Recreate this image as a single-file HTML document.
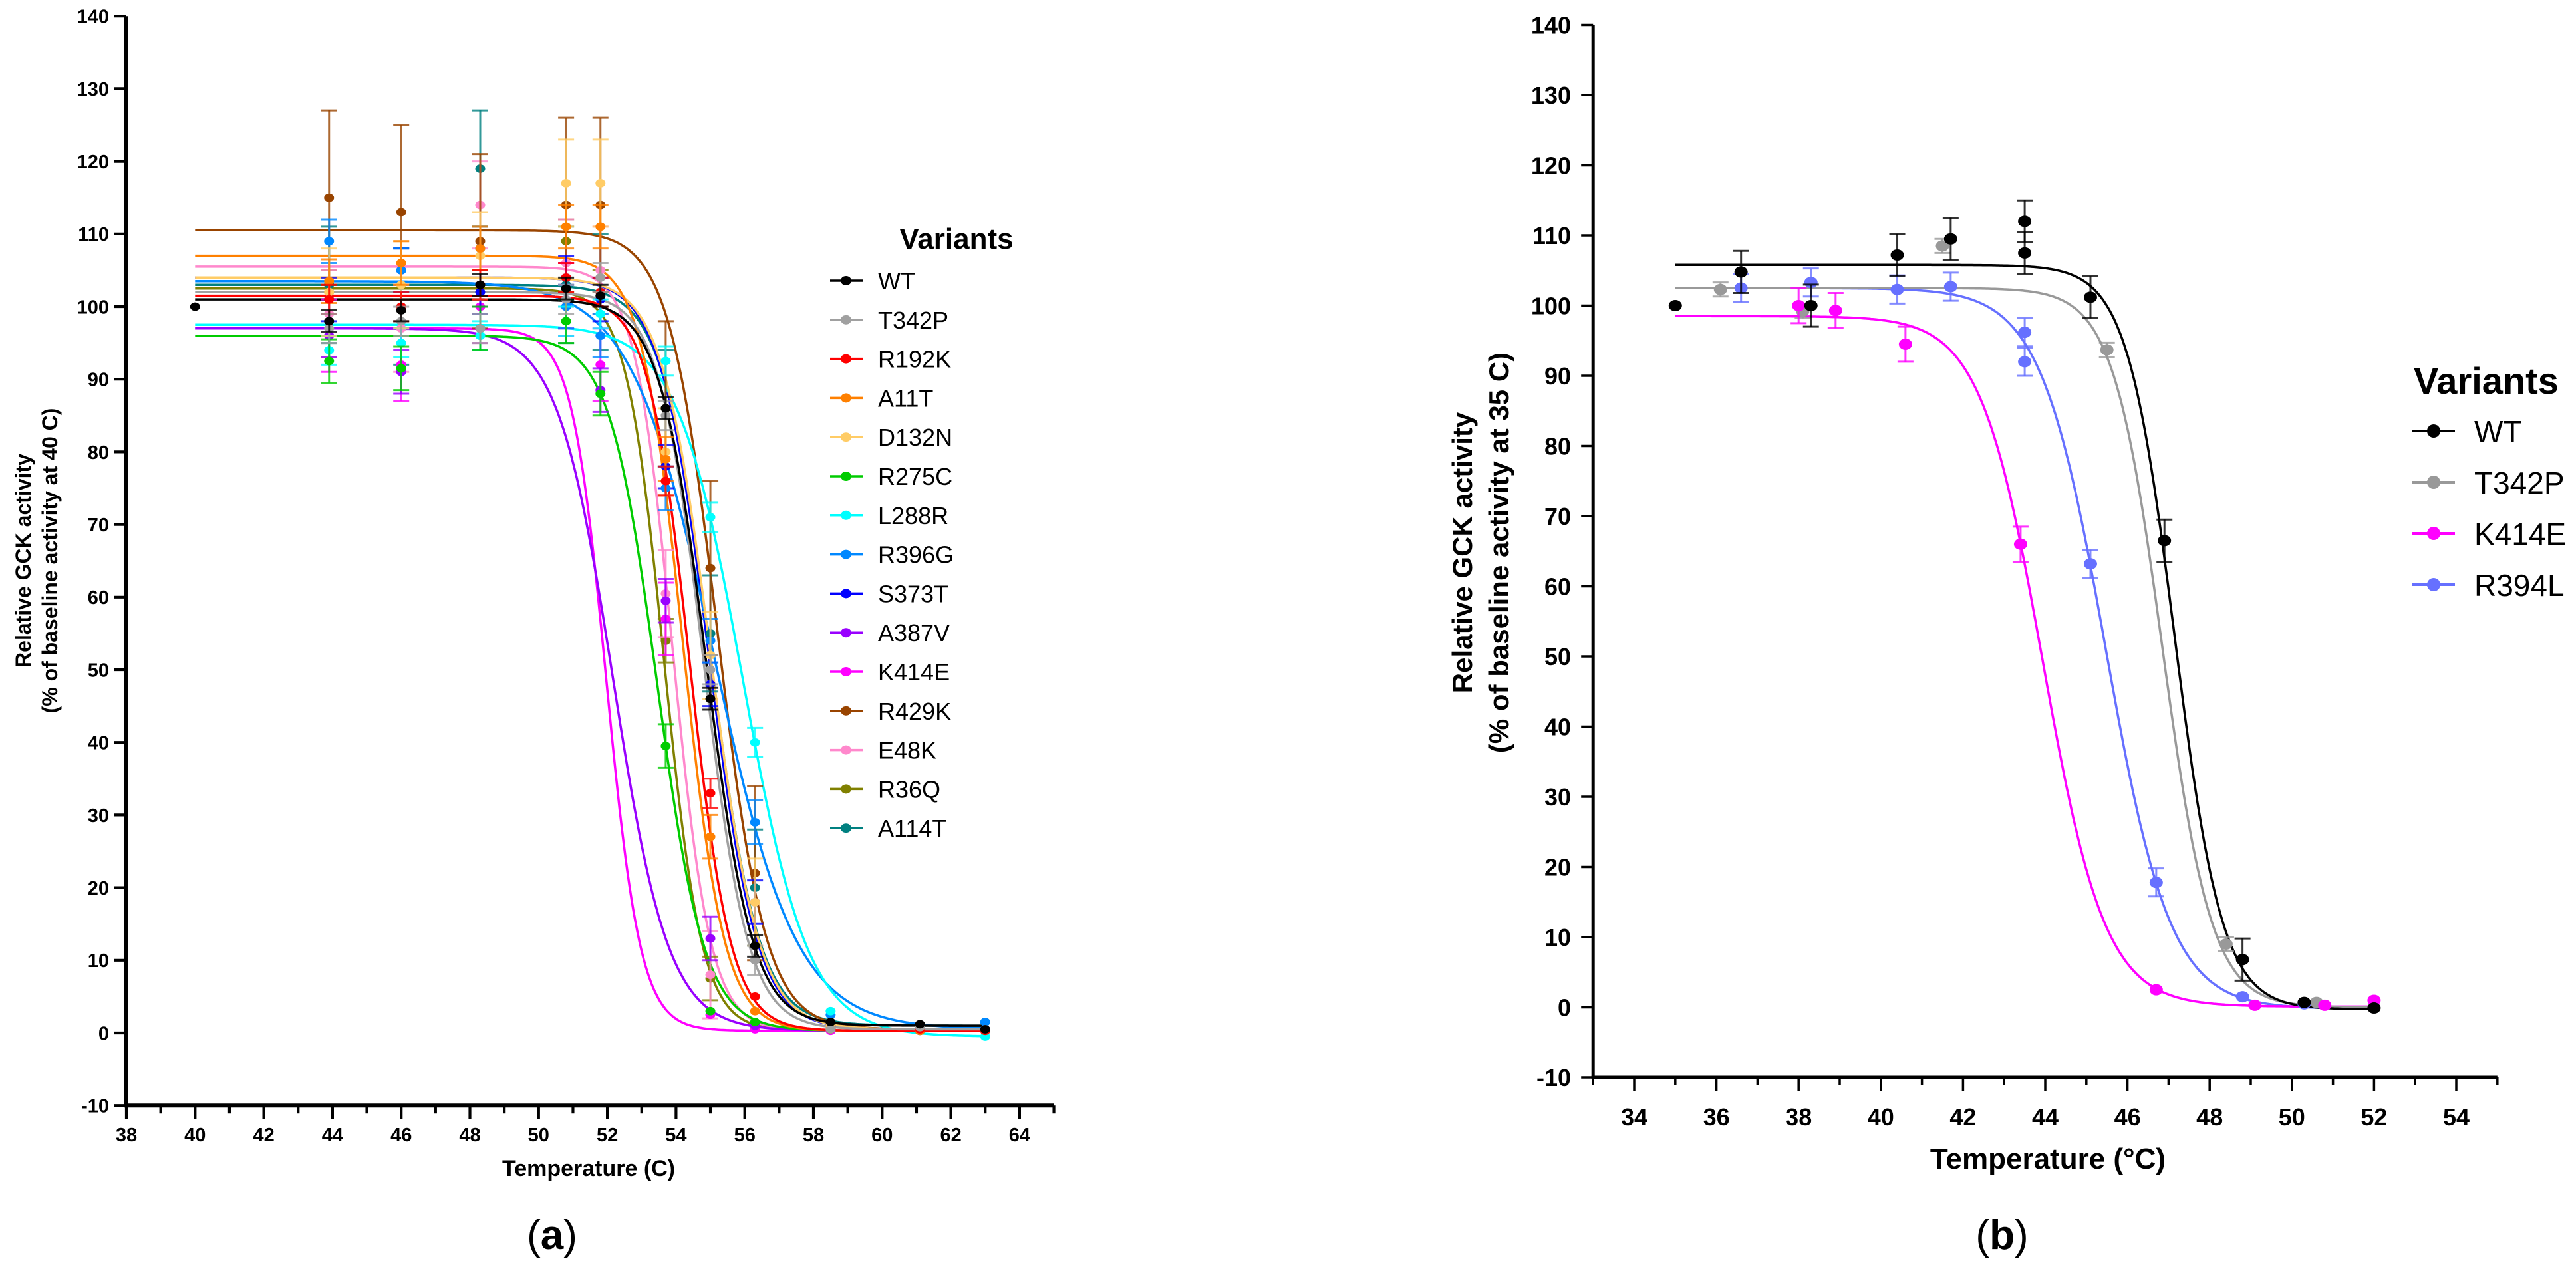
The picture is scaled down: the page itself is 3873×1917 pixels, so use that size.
<!DOCTYPE html>
<html><head><meta charset="utf-8"><style>
html,body{margin:0;padding:0;background:#fff;width:3873px;height:1917px;overflow:hidden}
svg{display:block}
text{font-family:"Liberation Sans",Arial,sans-serif}
</style></head><body>
<svg id="fig" width="3873" height="1917" viewBox="0 0 3873 1917" xmlns="http://www.w3.org/2000/svg">
<g id="pa"></g>
<g id="pb"></g>
<text x="885" y="1768" font-size="34" font-weight="bold" text-anchor="middle">Temperature (C)</text>
<text x="830" y="1878" font-size="62" text-anchor="middle" font-family="Liberation Serif, serif">(<tspan font-weight="bold">a</tspan>)</text>
<text transform="translate(46,843) rotate(-90)" font-size="32" font-weight="bold" text-anchor="middle">Relative GCK activity</text>
<text transform="translate(86,843) rotate(-90)" font-size="32" font-weight="bold" text-anchor="middle">(% of baseline activity at 40 C)</text>
<text x="3079" y="1757" font-size="44" font-weight="bold" text-anchor="middle">Temperature (°C)</text>
<text x="3010" y="1878" font-size="62" text-anchor="middle" font-family="Liberation Serif, serif">(<tspan font-weight="bold">b</tspan>)</text>
<text transform="translate(2213,831) rotate(-90)" font-size="42" font-weight="bold" text-anchor="middle">Relative GCK activity</text>
<text transform="translate(2268,831) rotate(-90)" font-size="42" font-weight="bold" text-anchor="middle">(% of baseline activity at 35 C)</text>
</svg>
<script>
// ---------- Panel A data ----------
const aNames = ["WT","T342P","R192K","A11T","D132N","R275C","L288R","R396G","S373T","A387V","K414E","R429K","E48K","R36Q","A114T"];
const aColors = ["#000000","#a0a0a0","#ff0000","#ff8000","#ffcc66","#00cc00","#00ffff","#0088ff","#0000ff","#9900ff","#ff00ff","#994400","#ff88cc","#808000","#008080"];
const aTemps = [40,43.9,46,48.3,50.8,51.8,53.7,55,56.3,58.5,61.1,63];
const aWT = [100,98,99.5,103,102.5,101.5,86,46,12,1.5,1.2,0.5];
const aT342P = [null,97,98,97,101,104,85,50,10,0.5,0.8,0.5];
const aR192K = [null,101,100,103,104,102,76,33,5,0.5,0.5,0.3];
const aA11T = [null,103.5,106,108,111,111,79,27,3,0.5,0.3,0.5];
const aD132N = [null,102,103,107,117,117,80,52,18,1,0.5,0.3];
const aR275C = [null,92.5,91.5,97,98,88,39.5,3,1.5,0.5,0.3,0.3];
const aL288R = [null,94,95,96,98,99,92.5,71,40,3,1,-0.5];
const aR396G = [null,109,105,108,100,96,75,54,29,2.5,1,1.5];
const aS373T = [null,101,105,102,104,101,78,48,18,1,0.5,0.5];
const aA387V = [null,96,91,97,100,88.5,59.5,13,1,0.5,0.3,0.3];
const aK414E = [null,96,92,100,101,92,57,2.5,0.5,0.3,0.3,0.3];
const aR429K = [null,115,113,109,114,114,86,64,22,1,0.5,0.5];
const aE48K = [null,99,97,114,106,105,60.5,8,1,0.5,0.3,0.3];
const aR36Q = [null,102,100,108,109,102,54,7.5,1,0.5,0.3,0.3];
const aA114T = [null,103,100,119,103,102,86,55,20,1,0.8,1.5];
const aErr = [1.5,2,2,3,6,3,2,3,3,3,5,12,6,3,8];
const aTop = [101,102,101.5,107,104,96,97.5,103.5,104,97,97,110.5,105.5,102.5,103];
const aBottom = [1,0.5,0.3,0.3,0.5,0.3,-0.5,0.5,0.5,0.3,0.3,0.5,0.3,0.3,1];
const aTm = [54.88,54.8,54.4,54.2,55.0,53.45,55.95,55.1,54.95,52.17,51.97,55.2,53.9,53.65,55.0];
const aSlope = [0.67,0.65,0.6,0.6,0.7,0.69,0.96,1.2,0.7,0.81,0.5,0.7,0.55,0.55,0.7];
const aYTicks = [-10,0,10,20,30,40,50,60,70,80,90,100,110,120,130,140];
const aXTicks = [38,40,42,44,46,48,50,52,54,56,58,60,62,64];
// ---------- Panel B data ----------
const bNames = ["WT","T342P","K414E","R394L"];
const bColors = ["#000000","#999999","#ff00ff","#6670ff"];
const bWTx = [35,36.6,38.3,40.4,41.7,43.5,43.5,45.1,46.9,48.8,50.3,52];
const bWTy = [100,104.8,100,107.2,109.5,112,107.5,101.2,66.5,6.8,0.7,-0.1];
const bT342Px = [36.1,38.1,41.5,45.5,48.4,50.6];
const bT342Py = [102.3,99.2,108.5,93.7,9,0.7];
const bK414Ex = [38,38.9,40.6,43.4,46.7,49.1,50.8,52];
const bK414Ey = [100,99.3,94.5,66,2.5,0.3,0.3,1];
const bR394Lx = [36.6,38.3,40.4,41.7,43.5,43.5,45.1,46.7,48.8,50.3];
const bR394Ly = [102.5,103.3,102.3,102.7,96.2,92,63.2,17.8,1.5,0.5];
const bErr = [3,1,2.5,2];
const bTop = [105.8,102.5,98.5,102.5];
const bBottom = [-0.3,0,0.1,-0.2];
const bTm = [47.15,46.85,43.94,45.47];
const bSlope = [0.58,0.6,0.76,0.79];
const bYTicks = [-10,0,10,20,30,40,50,60,70,80,90,100,110,120,130,140];
const bXTicks = [34,36,38,40,42,44,46,48,50,52,54];

const NS="http://www.w3.org/2000/svg";
function mk(parent,tag,attrs){const e=document.createElementNS(NS,tag);for(const k in attrs)e.setAttribute(k,attrs[k]);parent.appendChild(e);return e;}
function logistic(x,top,bot,tm,s){return bot+(top-bot)/(1+Math.exp((x-tm)/s));}

const ax=v=>190+(v-38)*51.65;
const ay=v=>1553-v*10.92;
const bx=v=>2457+(v-34)*61.8;
const by=v=>1514.5-v*10.55;

function drawAxes(g,X,Y,xmin,xmax,yt,xt,lw,fs,ylabR,xlabY,nm){
  const yl=mk(g,'line',{x1:X(xmin),y1:Y(-10),x2:X(xmin),y2:Y(140),stroke:'#000','stroke-width':lw});
  
  
  const xl=mk(g,'line',{x1:X(xmin)-lw/2,y1:Y(-10),x2:X(xmax),y2:Y(-10),stroke:'#000','stroke-width':lw});
  
  
  yt.forEach(v=>{
    mk(g,'line',{x1:X(xmin)-18,y1:Y(v),x2:X(xmin),y2:Y(v),stroke:'#000','stroke-width':lw*0.7});
    const t=mk(g,'text',{x:ylabR,y:Y(v)+fs*0.36,'font-size':fs,'font-weight':'bold','text-anchor':'end'});
    t.textContent=v;
    
    
  });
  for(let v=Math.ceil(xmin);v<=xmax;v++){
    const major=(v%2===0);
    mk(g,'line',{x1:X(v),y1:Y(-10),x2:X(v),y2:Y(-10)+(major?20:12),stroke:'#000','stroke-width':lw*0.7});
  }
  xt.forEach(v=>{
    const t=mk(g,'text',{x:X(v),y:xlabY,'font-size':fs,'font-weight':'bold','text-anchor':'middle'});
    t.textContent=v;
    
    
  });
}
function curve(g,X,Y,x0,x1,top,bot,tm,s,col,w,name){
  let d='';
  for(let i=0;i<=400;i++){const x=x0+(x1-x0)*i/400;d+=(i?'L':'M')+X(x).toFixed(1)+','+Y(logistic(x,top,bot,tm,s)).toFixed(1);}
  const p=mk(g,'path',{d:d,fill:'none',stroke:col,'stroke-width':w});
  
  
}
function point(g,X,Y,x,y,err,col,r,name){
  if(err>0){
    mk(g,'line',{x1:X(x),y1:Y(y-err),x2:X(x),y2:Y(y+err),stroke:col,'stroke-width':3,opacity:0.8});
    mk(g,'line',{x1:X(x)-12,y1:Y(y+err),x2:X(x)+12,y2:Y(y+err),stroke:col,'stroke-width':3,opacity:0.8});
    mk(g,'line',{x1:X(x)-12,y1:Y(y-err),x2:X(x)+12,y2:Y(y-err),stroke:col,'stroke-width':3,opacity:0.8});
  }
  const c=mk(g,'ellipse',{cx:X(x),cy:Y(y),rx:r,ry:r*0.85,fill:col});
  
  
}

// ---- Panel A ----
const ga=document.getElementById('pa');
drawAxes(ga,ax,ay,38,65,aYTicks,aXTicks,6,29,164,1716,'a');
const aSeries=[aWT,aT342P,aR192K,aA11T,aD132N,aR275C,aL288R,aR396G,aS373T,aA387V,aK414E,aR429K,aE48K,aR36Q,aA114T];
for(let i=aNames.length-1;i>=0;i--){
  curve(ga,ax,ay,40,63,aTop[i],aBottom[i],aTm[i],aSlope[i],aColors[i],3.5,aNames[i]);
}
for(let i=aNames.length-1;i>=0;i--){
  aSeries[i].forEach((v,j)=>{ if(v!==null) point(ga,ax,ay,aTemps[j],v,(v>5&&j>0?aErr[i]:0),aColors[i],7.5,aNames[i]); });
}
const lt=mk(ga,'text',{x:1438,y:374,'font-size':44,'font-weight':'bold','text-anchor':'middle'});
lt.textContent='Variants';


aNames.forEach((n,i)=>{
  const y=422+i*58.8;
  const lg=mk(ga,'g',{});
  
  
  mk(lg,'line',{x1:1248,y1:y,x2:1297,y2:y,stroke:aColors[i],'stroke-width':3.5});
  mk(lg,'ellipse',{cx:1272,cy:y,rx:8,ry:7,fill:aColors[i]});
  const t=mk(lg,'text',{x:1320,y:y+13,'font-size':36});
  t.textContent=n;
});

// ---- Panel B ----
const gb=document.getElementById('pb');
drawAxes(gb,bx,by,33,55,bYTicks,bXTicks,5,36,2362,1692,'b');
const bXs=[bWTx,bT342Px,bK414Ex,bR394Lx];
const bYs=[bWTy,bT342Py,bK414Ey,bR394Ly];
for(let i=bNames.length-1;i>=0;i--){
  curve(gb,bx,by,35,52,bTop[i],bBottom[i],bTm[i],bSlope[i],bColors[i],3.5,bNames[i]);
}
[1,3,2,0].forEach(i=>{
  bXs[i].forEach((x,j)=>{ const v=bYs[i][j]; point(gb,bx,by,x,v,(v>5&&x>35?bErr[i]:0),bColors[i],10,bNames[i]); });
});
const lb=mk(gb,'text',{x:3738,y:592,'font-size':56,'font-weight':'bold','text-anchor':'middle'});
lb.textContent='Variants';


bNames.forEach((n,i)=>{
  const y=648+i*77;
  const lg=mk(gb,'g',{});
  
  
  mk(lg,'line',{x1:3626,y1:y,x2:3691,y2:y,stroke:bColors[i],'stroke-width':4});
  mk(lg,'circle',{cx:3659,cy:y,r:10,fill:bColors[i]});
  const t=mk(lg,'text',{x:3720,y:y+17,'font-size':46});
  t.textContent=n;
});
</script>
</body></html>
